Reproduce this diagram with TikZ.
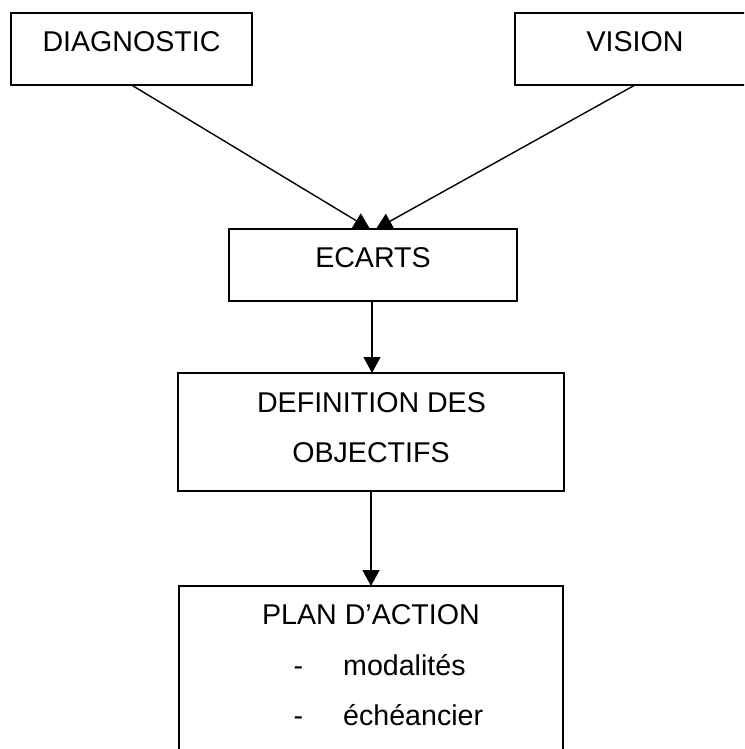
\documentclass[tikz,border=0pt]{standalone}
\usepackage{fontspec}
\setmainfont{Liberation Sans}
\usetikzlibrary{arrows.meta}
\begin{document}
\begin{tikzpicture}[x=1pt,y=-1pt,
  box/.style={draw, line width=1.6pt, rectangle, inner sep=0pt, outer sep=0pt, anchor=north west},
  lbl/.style={anchor=base, inner sep=0pt, font=\fontsize{28.6}{34}\selectfont},
  conn/.style={line width=1.4pt, -{Triangle[length=16pt,width=17pt]}}]
\clip (0,0) rectangle (744,749);
\node[box, minimum width=241pt, minimum height=72pt] (diag) at (11,13) {};
\node[box, minimum width=240pt, minimum height=72pt] (vision) at (515,13) {};
\node[box, minimum width=288pt, minimum height=72pt] (ecarts) at (229,229) {};
\node[box, minimum width=386pt, minimum height=118pt] (def) at (178,373) {};
\node[box, minimum width=384pt, minimum height=200pt] (plan) at (179,586) {};
\node[lbl] (tdiag) at (131.5,52) {DIAGNOSTIC};
\node[lbl] (tvision) at (635,52) {VISION};
\node[lbl] (tecarts) at (373,267) {ECARTS};
\node[lbl] (tdef1) at (371.5,412) {DEFINITION DES};
\node[lbl] (tdef2) at (371,462) {OBJECTIFS};
\node[lbl] (tplan) at (371,624) {PLAN D’ACTION};
\node[lbl] (dash1) at (298.5,675) {-};
\node[lbl] (dash2) at (298.5,725) {-};
\node[lbl, anchor=base west] (tmod) at (343,675) {modalités};
\node[lbl, anchor=base west] (tech) at (343,725) {échéancier};
\draw[conn] (diag.south) -- ([xshift=-3pt]ecarts.north);
\draw[conn] (vision.south) -- ([xshift=3pt]ecarts.north);
\draw[conn] ([xshift=-1pt]ecarts.south) -- ([xshift=-1pt]ecarts.south |- def.north);
\draw[conn] (def.south) -- (plan.north);
\end{tikzpicture}
\end{document}
